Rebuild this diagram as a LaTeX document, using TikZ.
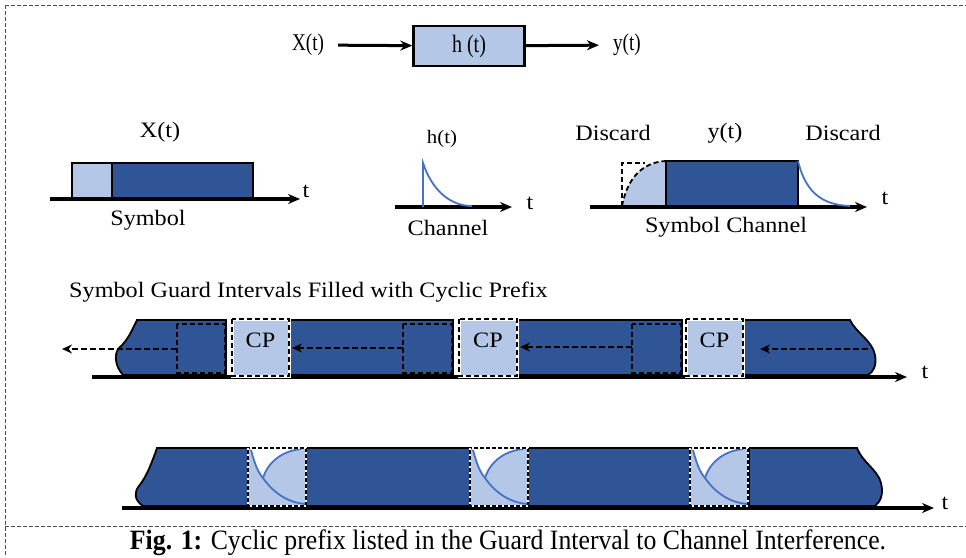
\documentclass[tikz,border=0pt]{standalone}
\usepackage{fontspec}
\setmainfont{Liberation Serif}
\newfontfamily\narrowserif[FakeStretch=0.8]{Liberation Serif}
\newfontfamily\capserif[FakeStretch=0.92]{Liberation Serif}
\newfontfamily\wideserif[FakeStretch=1.1]{Liberation Serif}
\usetikzlibrary{arrows.meta}
\definecolor{symdark}{HTML}{2F5597}
\definecolor{symlight}{HTML}{B4C7E7}
\definecolor{chanblue}{HTML}{4472C4}
\tikzset{
  framedash/.style={draw=black!70, line width=0.7pt, dash pattern=on 4pt off 2pt},
  axis/.style={line width=3.2pt, -{Stealth[length=12pt,width=10pt]}},
  flow/.style={line width=3pt, -{Stealth[length=12pt,width=10pt]}},
  sysbox/.style={draw=black, fill=symlight, line width=2.4pt, minimum width=111pt, minimum height=40pt, inner sep=0pt},
  darkpart/.style={fill=symdark, draw=black, line width=1.8pt},
  lightpart/.style={fill=symlight, draw=black, line width=1.8pt},
  guardline/.style={draw=black, line width=1.8pt, dash pattern=on 5pt off 3pt},
  dasharrow/.style={draw=black, line width=2pt, dash pattern=on 6pt off 3pt, -{Stealth[length=10pt,width=9pt]}},
  response/.style={draw=chanblue, line width=1.8pt},
  toplabel/.style={font=\fontsize{24}{26}\narrowserif, inner sep=0pt},
  label/.style={font=\fontsize{22}{24}\wideserif, inner sep=0pt},
  smalllabel/.style={font=\fontsize{19}{21}\wideserif, inner sep=0pt},
  cplabel/.style={font=\fontsize{22}{24}\wideserif, inner sep=0pt},
}
\begin{document}
\begin{tikzpicture}[x=1pt, y=-1pt]
\useasboundingbox (0,0) rectangle (966,557);

% outer frame and caption separator
\draw[framedash] (5,5) -- (966,5);
\draw[framedash] (5,5) -- (5,557);
\draw[framedash] (5,526) -- (966,526);

% ---- system block: X(t) -> h(t) -> y(t)
\node[sysbox] (sys) at (469,46) {\fontsize{25}{27}\narrowserif h (t)};
\node[toplabel] (xin) at (308,45) {X(t)};
\node[toplabel] (yout) at (627,45) {y(t)};
\draw[flow, shorten <=14pt] (xin) -- (sys);
\draw[flow, shorten >=14pt] (sys) -- (yout);

% ---- transmitted symbol
\node[label] (xlab) at (160,132) {X(t)};
\draw[lightpart] (72,163) rectangle (112,198);
\draw[darkpart] (112,163) rectangle (253,198);
\coordinate (xa0) at (50,199);
\coordinate (xa1) at (300,199);
\draw[axis] (xa0) -- (xa1);
\node[label] (xt) at (306,191) {t};
\node[label] (symlab) at (148,220) {Symbol};

% ---- channel impulse response
\node[smalllabel] (hlab) at (442,139) {h(t)};
\coordinate (ha0) at (395,207);
\coordinate (ha1) at (512,207);
\draw[axis] (ha0) -- (ha1);
\draw[response] (423,207) -- (423,163) .. controls (432,190) and (450,206) .. (472,206);
\node[label] (ht) at (530,203) {t};
\node[label] (chlab) at (448,228) {Channel};

% ---- received symbol
\node[label] (d1) at (613,133) {Discard};
\node[label] (ylab) at (725,133) {y(t)};
\node[label] (d2) at (843,133) {Discard};
\coordinate (ya0) at (590,207);
\coordinate (ya1) at (867,207);
\fill[symlight] (622,206) .. controls (628,175) and (645,162) .. (666,161) -- (666,206) -- cycle;
\draw[axis] (ya0) -- (ya1);
\draw[guardline] (622,206) -- (622,163) -- (645,163);
\draw[guardline] (622,206) .. controls (628,175) and (645,162) .. (666,161);
\draw[darkpart] (666,161) rectangle (798,206);
\draw[response] (798,161) .. controls (805,190) and (820,205) .. (850,206);
\node[label] (yt) at (885,198) {t};
\node[label] (sclab) at (726,227) {Symbol Channel};

% ---- symbol stream with guard intervals
\node[label, anchor=west] (gtitle) at (69,292) {Symbol Guard Intervals Filled with Cyclic Prefix};
\coordinate (ga0) at (92,377);
\coordinate (ga1) at (907,377);
\draw[axis] (ga0) -- (ga1);
\node[label] (gt) at (925,372) {t};

\draw[darkpart] (137,320) -- (226,320) -- (226,375) -- (123,375)
  .. controls (114,365) and (114,352) .. (120,347)
  .. controls (128,340) and (132,330) .. (137,320) -- cycle;
\draw[darkpart] (290,320) rectangle (453,375);
\draw[darkpart] (518,320) rectangle (682,375);
\draw[darkpart] (743,320) -- (850,320)
  .. controls (856,333) and (872,340) .. (875,355)
  .. controls (877,366) and (873,372) .. (868,375) -- (743,375) -- cycle;

% copied tails
\draw[guardline] (177,324) rectangle (225,373);
\draw[guardline] (403,324) rectangle (452,373);
\draw[guardline] (632,324) rectangle (681,373);

% cyclic prefixes
\foreach \a/\b/\n in {232/289/1, 459/517/2, 686/743/3}{
  \draw[white, line width=3pt, fill=symlight] (\a,319) rectangle (\b,376);
  \draw[guardline] (\a,319) rectangle (\b,376);
  \node[cplabel] (cp\n) at ({(\a+\b)/2},340) {CP};
}

\coordinate (tail1) at (177,349);
\coordinate (lead0) at (62,349);
\coordinate (tail2) at (403,348);
\coordinate (lead2) at (292,348);
\coordinate (tail3) at (632,347);
\coordinate (lead3) at (520,347);
\coordinate (tail4) at (868,349);
\coordinate (lead4) at (760,349);
\draw[dasharrow] (tail1) -- (lead0);
\draw[dasharrow] (tail2) -- (lead2);
\draw[dasharrow] (tail3) -- (lead3);
\draw[dasharrow] (tail4) -- (lead4);

% ---- received stream: channel spill-over inside the prefixes
\coordinate (ra0) at (122,508);
\coordinate (ra1) at (934,508);
\draw[axis] (ra0) -- (ra1);
\node[label] (rt) at (945,503) {t};

\draw[darkpart] (157,448) -- (248,448) -- (248,506) -- (143,506)
  .. controls (134,500) and (134,492) .. (139,486)
  .. controls (147,476) and (152,462) .. (157,448) -- cycle;
\draw[darkpart] (306,448) rectangle (470,506);
\draw[darkpart] (528,448) rectangle (690,506);
\draw[darkpart] (749,448) -- (857,448)
  .. controls (862,462) and (878,470) .. (881,483)
  .. controls (884,495) and (880,502) .. (875,506) -- (749,506) -- cycle;

\foreach \a in {248,470,690}{
  \begin{scope}[shift={(\a,0)}]
    \fill[symlight] (0,448) rectangle (58,506);
    \fill[white] (3,450) .. controls (7,465) and (10,472) .. (15,478)
      .. controls (20,462) and (34,451) .. (53,449) -- (3,449) -- cycle;
    \draw[response] (3,450) .. controls (7,465) and (10,472) .. (15,478)
      .. controls (27,495) and (42,503) .. (58,504);
    \draw[response] (15,478) .. controls (20,462) and (34,451) .. (53,449);
    \draw[black, line width=2.4pt] (0,448) rectangle (58,506);
    \draw[white, line width=1.2pt, dash pattern=on 2pt off 4pt] (0,448) rectangle (58,506);
  \end{scope}
}

% ---- caption
\node[font=\fontsize{28}{30}\capserif, inner sep=0pt] (cap) at (508,543)
  {\textbf{Fig. 1:} Cyclic prefix listed in the Guard Interval to Channel Interference.};
\end{tikzpicture}
\end{document}
